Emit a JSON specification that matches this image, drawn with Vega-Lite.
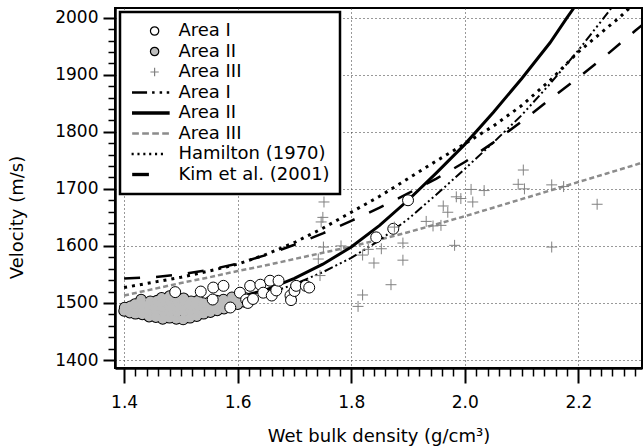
{
  "$schema": "https://vega.github.io/schema/vega-lite/v6.json",
  "width": 527,
  "height": 360,
  "autosize": "none",
  "padding": {"left": 115, "top": 8, "right": 1, "bottom": 79},
  "background": "white",
  "config": {
    "view": {"stroke": "black", "strokeWidth": 2},
    "font": "DejaVu Sans",
    "legend": {"strokeWidth": 2.5}
  },
  "datasets": {
    "lines": [
      {"c": "l3", "x": 1.40, "y": 1513}, {"c": "l3", "x": 1.45, "y": 1524}, {"c": "l3", "x": 1.50, "y": 1535}, {"c": "l3", "x": 1.55, "y": 1545},
      {"c": "l3", "x": 1.60, "y": 1556}, {"c": "l3", "x": 1.65, "y": 1566}, {"c": "l3", "x": 1.70, "y": 1577}, {"c": "l3", "x": 1.75, "y": 1588},
      {"c": "l3", "x": 1.80, "y": 1599}, {"c": "l3", "x": 1.85, "y": 1611}, {"c": "l3", "x": 1.90, "y": 1624}, {"c": "l3", "x": 1.95, "y": 1638},
      {"c": "l3", "x": 2.00, "y": 1652}, {"c": "l3", "x": 2.05, "y": 1667}, {"c": "l3", "x": 2.10, "y": 1682}, {"c": "l3", "x": 2.15, "y": 1697},
      {"c": "l3", "x": 2.20, "y": 1712}, {"c": "l3", "x": 2.25, "y": 1727}, {"c": "l3", "x": 2.30, "y": 1742}, {"c": "l3", "x": 2.312, "y": 1746},
      {"c": "k", "x": 1.40, "y": 1543}, {"c": "k", "x": 1.45, "y": 1545}, {"c": "k", "x": 1.50, "y": 1550}, {"c": "k", "x": 1.55, "y": 1558},
      {"c": "k", "x": 1.60, "y": 1569}, {"c": "k", "x": 1.65, "y": 1584}, {"c": "k", "x": 1.70, "y": 1602}, {"c": "k", "x": 1.75, "y": 1622},
      {"c": "k", "x": 1.80, "y": 1644}, {"c": "k", "x": 1.85, "y": 1667}, {"c": "k", "x": 1.90, "y": 1692}, {"c": "k", "x": 1.95, "y": 1718},
      {"c": "k", "x": 2.00, "y": 1747}, {"c": "k", "x": 2.05, "y": 1781}, {"c": "k", "x": 2.10, "y": 1818}, {"c": "k", "x": 2.15, "y": 1857},
      {"c": "k", "x": 2.20, "y": 1895}, {"c": "k", "x": 2.25, "y": 1935}, {"c": "k", "x": 2.30, "y": 1977}, {"c": "k", "x": 2.312, "y": 1987},
      {"c": "h", "x": 1.40, "y": 1527}, {"c": "h", "x": 1.45, "y": 1536}, {"c": "h", "x": 1.50, "y": 1545}, {"c": "h", "x": 1.55, "y": 1556},
      {"c": "h", "x": 1.60, "y": 1568}, {"c": "h", "x": 1.65, "y": 1585}, {"c": "h", "x": 1.70, "y": 1606}, {"c": "h", "x": 1.75, "y": 1631},
      {"c": "h", "x": 1.80, "y": 1659}, {"c": "h", "x": 1.85, "y": 1687}, {"c": "h", "x": 1.90, "y": 1718}, {"c": "h", "x": 1.95, "y": 1749},
      {"c": "h", "x": 2.00, "y": 1779}, {"c": "h", "x": 2.05, "y": 1810}, {"c": "h", "x": 2.10, "y": 1846}, {"c": "h", "x": 2.15, "y": 1890},
      {"c": "h", "x": 2.20, "y": 1940}, {"c": "h", "x": 2.25, "y": 1982}, {"c": "h", "x": 2.272, "y": 2000}, {"c": "h", "x": 2.29, "y": 2017},
      {"c": "l1", "x": 1.62, "y": 1505}, {"c": "l1", "x": 1.65, "y": 1515}, {"c": "l1", "x": 1.70, "y": 1533}, {"c": "l1", "x": 1.75, "y": 1554},
      {"c": "l1", "x": 1.80, "y": 1579}, {"c": "l1", "x": 1.85, "y": 1610}, {"c": "l1", "x": 1.90, "y": 1647}, {"c": "l1", "x": 1.95, "y": 1690},
      {"c": "l1", "x": 2.00, "y": 1735}, {"c": "l1", "x": 2.05, "y": 1781}, {"c": "l1", "x": 2.10, "y": 1829}, {"c": "l1", "x": 2.15, "y": 1884},
      {"c": "l1", "x": 2.20, "y": 1943}, {"c": "l1", "x": 2.245, "y": 2000}, {"c": "l1", "x": 2.258, "y": 2017},
      {"c": "l2", "x": 1.55, "y": 1500}, {"c": "l2", "x": 1.60, "y": 1510}, {"c": "l2", "x": 1.65, "y": 1523}, {"c": "l2", "x": 1.70, "y": 1543},
      {"c": "l2", "x": 1.75, "y": 1568}, {"c": "l2", "x": 1.80, "y": 1598}, {"c": "l2", "x": 1.85, "y": 1636}, {"c": "l2", "x": 1.90, "y": 1680},
      {"c": "l2", "x": 1.95, "y": 1728}, {"c": "l2", "x": 2.00, "y": 1778}, {"c": "l2", "x": 2.05, "y": 1834}, {"c": "l2", "x": 2.10, "y": 1893},
      {"c": "l2", "x": 2.15, "y": 1956}, {"c": "l2", "x": 2.18, "y": 2000}, {"c": "l2", "x": 2.192, "y": 2017}
    ],
    "blob": [
      {"x": 1.400, "y": 1486}, {"x": 1.401, "y": 1492},
      {"x": 1.410, "y": 1483}, {"x": 1.411, "y": 1494},
      {"x": 1.420, "y": 1481}, {"x": 1.421, "y": 1490}, {"x": 1.419, "y": 1498},
      {"x": 1.432, "y": 1480}, {"x": 1.433, "y": 1489}, {"x": 1.431, "y": 1498}, {"x": 1.430, "y": 1506},
      {"x": 1.444, "y": 1476}, {"x": 1.445, "y": 1487}, {"x": 1.443, "y": 1496}, {"x": 1.446, "y": 1503},
      {"x": 1.456, "y": 1475}, {"x": 1.457, "y": 1486}, {"x": 1.455, "y": 1495}, {"x": 1.458, "y": 1504},
      {"x": 1.468, "y": 1472}, {"x": 1.469, "y": 1484}, {"x": 1.467, "y": 1493}, {"x": 1.470, "y": 1502}, {"x": 1.466, "y": 1509},
      {"x": 1.480, "y": 1474}, {"x": 1.481, "y": 1485}, {"x": 1.479, "y": 1494}, {"x": 1.482, "y": 1503}, {"x": 1.480, "y": 1512},
      {"x": 1.492, "y": 1472}, {"x": 1.493, "y": 1484}, {"x": 1.491, "y": 1493}, {"x": 1.494, "y": 1502}, {"x": 1.492, "y": 1509},
      {"x": 1.504, "y": 1471}, {"x": 1.505, "y": 1485}, {"x": 1.503, "y": 1494}, {"x": 1.506, "y": 1503}, {"x": 1.505, "y": 1508},
      {"x": 1.516, "y": 1474}, {"x": 1.517, "y": 1487}, {"x": 1.515, "y": 1496}, {"x": 1.518, "y": 1503},
      {"x": 1.528, "y": 1477}, {"x": 1.529, "y": 1488}, {"x": 1.527, "y": 1497}, {"x": 1.530, "y": 1504},
      {"x": 1.540, "y": 1481}, {"x": 1.541, "y": 1491}, {"x": 1.539, "y": 1500},
      {"x": 1.552, "y": 1484}, {"x": 1.553, "y": 1494}, {"x": 1.551, "y": 1502},
      {"x": 1.564, "y": 1487}, {"x": 1.565, "y": 1496}, {"x": 1.563, "y": 1504},
      {"x": 1.576, "y": 1490}, {"x": 1.577, "y": 1499}, {"x": 1.575, "y": 1506},
      {"x": 1.588, "y": 1494}, {"x": 1.589, "y": 1503}, {"x": 1.590, "y": 1510},
      {"x": 1.600, "y": 1498}, {"x": 1.601, "y": 1506}, {"x": 1.602, "y": 1513},
      {"x": 1.612, "y": 1502}, {"x": 1.613, "y": 1509}
    ],
    "pts": [
      {"s": "p1", "x": 1.490, "y": 1519}, {"s": "p1", "x": 1.535, "y": 1520},
      {"s": "p1", "x": 1.557, "y": 1527}, {"s": "p1", "x": 1.556, "y": 1506}, {"s": "p1", "x": 1.575, "y": 1530},
      {"s": "p1", "x": 1.587, "y": 1492}, {"s": "p1", "x": 1.604, "y": 1518}, {"s": "p1", "x": 1.615, "y": 1506},
      {"s": "p1", "x": 1.618, "y": 1500}, {"s": "p1", "x": 1.622, "y": 1530}, {"s": "p1", "x": 1.627, "y": 1507},
      {"s": "p1", "x": 1.640, "y": 1532}, {"s": "p1", "x": 1.645, "y": 1518}, {"s": "p1", "x": 1.660, "y": 1513},
      {"s": "p1", "x": 1.657, "y": 1539}, {"s": "p1", "x": 1.668, "y": 1522}, {"s": "p1", "x": 1.672, "y": 1539},
      {"s": "p1", "x": 1.693, "y": 1513}, {"s": "p1", "x": 1.694, "y": 1505}, {"s": "p1", "x": 1.700, "y": 1521},
      {"s": "p1", "x": 1.703, "y": 1530}, {"s": "p1", "x": 1.720, "y": 1530}, {"s": "p1", "x": 1.726, "y": 1527},
      {"s": "p1", "x": 1.844, "y": 1615}, {"s": "p1", "x": 1.874, "y": 1630}, {"s": "p1", "x": 1.900, "y": 1680},
      {"s": "p3", "x": 1.745, "y": 1548}, {"s": "p3", "x": 1.742, "y": 1577}, {"s": "p3", "x": 1.751, "y": 1598},
      {"s": "p3", "x": 1.747, "y": 1642}, {"s": "p3", "x": 1.752, "y": 1677}, {"s": "p3", "x": 1.750, "y": 1650},
      {"s": "p3", "x": 1.782, "y": 1600}, {"s": "p3", "x": 1.812, "y": 1494}, {"s": "p3", "x": 1.820, "y": 1514},
      {"s": "p3", "x": 1.820, "y": 1584}, {"s": "p3", "x": 1.830, "y": 1594}, {"s": "p3", "x": 1.840, "y": 1570},
      {"s": "p3", "x": 1.853, "y": 1595}, {"s": "p3", "x": 1.870, "y": 1532}, {"s": "p3", "x": 1.876, "y": 1633},
      {"s": "p3", "x": 1.891, "y": 1605}, {"s": "p3", "x": 1.891, "y": 1575}, {"s": "p3", "x": 1.932, "y": 1643},
      {"s": "p3", "x": 1.944, "y": 1635}, {"s": "p3", "x": 1.958, "y": 1636}, {"s": "p3", "x": 1.962, "y": 1670},
      {"s": "p3", "x": 1.970, "y": 1659}, {"s": "p3", "x": 1.982, "y": 1601}, {"s": "p3", "x": 1.985, "y": 1686},
      {"s": "p3", "x": 1.993, "y": 1683}, {"s": "p3", "x": 2.011, "y": 1699}, {"s": "p3", "x": 2.014, "y": 1677},
      {"s": "p3", "x": 2.034, "y": 1697}, {"s": "p3", "x": 2.094, "y": 1708}, {"s": "p3", "x": 2.103, "y": 1733},
      {"s": "p3", "x": 2.105, "y": 1700}, {"s": "p3", "x": 2.153, "y": 1707}, {"s": "p3", "x": 2.174, "y": 1704},
      {"s": "p3", "x": 2.153, "y": 1598}, {"s": "p3", "x": 2.233, "y": 1673}
    ]
  },
  "encoding": {
    "x": {
      "field": "x", "type": "quantitative",
      "scale": {"domain": [1.384, 2.312], "nice": false, "zero": false},
      "axis": {
        "title": "Wet bulk density (g/cm³)",
        "values": [1.40, 1.42, 1.44, 1.46, 1.48, 1.50, 1.52, 1.54, 1.56, 1.58, 1.60, 1.62, 1.64, 1.66, 1.68, 1.70, 1.72, 1.74, 1.76, 1.78, 1.80, 1.82, 1.84, 1.86, 1.88, 1.90, 1.92, 1.94, 1.96, 1.98, 2.00, 2.02, 2.04, 2.06, 2.08, 2.10, 2.12, 2.14, 2.16, 2.18, 2.20, 2.22, 2.24, 2.26, 2.28, 2.30],
        "labelExpr": "abs(datum.value*5-round(datum.value*5))<0.001 ? format(datum.value,'.1f') : ''",
        "tickSize": {"condition": {"test": "abs(datum.value*5-round(datum.value*5))<0.001", "value": 15}, "value": 8},
        "tickWidth": {"condition": {"test": "abs(datum.value*5-round(datum.value*5))<0.001", "value": 2}, "value": 1.5},
        "gridOpacity": {"condition": {"test": "abs(datum.value*5-round(datum.value*5))<0.001", "value": 1}, "value": 0},
        "grid": true, "gridDash": [1, 3], "gridColor": "#333333", "gridWidth": 1,
        "domainColor": "black", "domainWidth": 2.5, "tickColor": "black",
        "labelFont": "DejaVu Sans", "labelFontSize": 17, "labelColor": "black", "labelPadding": 11,
        "labelOverlap": false, "labelFlush": false,
        "titleFont": "DejaVu Sans", "titleFontSize": 18, "titleFontWeight": "normal", "titleColor": "black", "titlePadding": 17
      }
    },
    "y": {
      "field": "y", "type": "quantitative",
      "scale": {"domain": [1386, 2017], "nice": false, "zero": false},
      "axis": {
        "title": "Velocity (m/s)",
        "values": [1400, 1420, 1440, 1460, 1480, 1500, 1520, 1540, 1560, 1580, 1600, 1620, 1640, 1660, 1680, 1700, 1720, 1740, 1760, 1780, 1800, 1820, 1840, 1860, 1880, 1900, 1920, 1940, 1960, 1980, 2000],
        "labelExpr": "datum.value % 100 == 0 ? format(datum.value,'d') : ''",
        "tickSize": {"condition": {"test": "datum.value % 100 == 0", "value": 12}, "value": 7},
        "tickWidth": {"condition": {"test": "datum.value % 100 == 0", "value": 2}, "value": 1.5},
        "gridOpacity": {"condition": {"test": "datum.value % 100 == 0", "value": 1}, "value": 0},
        "grid": true, "gridDash": [1, 3], "gridColor": "#333333", "gridWidth": 1,
        "domainColor": "black", "domainWidth": 2.5, "tickColor": "black",
        "labelFont": "DejaVu Sans", "labelFontSize": 17, "labelColor": "black", "labelPadding": 5,
        "labelOverlap": false, "labelFlush": false,
        "titleFont": "DejaVu Sans", "titleFontSize": 18, "titleFontWeight": "normal", "titleColor": "black", "titlePadding": 28, "titleY": 209
      }
    }
  },
  "layer": [
    {"data": {"name": "lines"}, "transform": [{"filter": "datum.c == 'l3'"}],
     "mark": {"type": "line", "color": "#8c8c8c", "strokeWidth": 2.5, "strokeDash": [5, 3], "clip": true}},
    {"data": {"name": "lines"}, "transform": [{"filter": "datum.c == 'k'"}],
     "mark": {"type": "line", "color": "black", "strokeWidth": 2.5, "strokeDash": [16, 16], "clip": true}},
    {"data": {"name": "lines"}, "transform": [{"filter": "datum.c == 'h'"}],
     "mark": {"type": "line", "color": "black", "strokeWidth": 3, "strokeDash": [3, 5], "clip": true}},
    {"data": {"name": "lines"}, "transform": [{"filter": "datum.c == 'l1'"}],
     "mark": {"type": "line", "color": "black", "strokeWidth": 2, "strokeDash": [9, 3, 2, 3, 2, 3, 2, 3], "clip": true}},
    {"data": {"name": "lines"}, "transform": [{"filter": "datum.c == 'l2'"}],
     "mark": {"type": "line", "color": "black", "strokeWidth": 3, "clip": true}},
    {"data": {"name": "blob"}, "mark": {"type": "circle", "size": 135, "color": "black", "opacity": 1}},
    {"data": {"name": "blob"}, "mark": {"type": "circle", "size": 92, "color": "#bdbdbd", "opacity": 1}},
    {"data": {"name": "pts"},
     "mark": {"type": "point", "strokeWidth": 1, "opacity": 1},
     "encoding": {
       "size": {"value": 120},
       "shape": {"field": "s", "type": "nominal",
         "scale": {"domain": ["p1", "p2", "p3", "l1", "l2", "l3", "h", "k"],
                   "range": ["circle", "circle", "M-1,0H1M0,-1V1",
                             "M-5.4,-0.3H-1.8V0.3H-5.4ZM-0.6,-0.3H0V0.3H-0.6ZM1.2,-0.3H1.8V0.3H1.2ZM2.9,-0.3H3.5V0.3H2.9Z",
                             "M-5.4,-0.4H3.6V0.4H-5.4Z",
                             "M-5.36,-0.3H-3.76V0.3H-5.36ZM-2.97,-0.3H-1.36V0.3H-2.97ZM-0.57,-0.3H1.03V0.3H-0.57ZM1.82,-0.3H3.42V0.3H1.82Z",
                             "M-5.5,-0.3H-5V0.3H-5.5ZM-4.1,-0.3H-3.6V0.3H-4.1ZM-2.7,-0.3H-2.2V0.3H-2.7ZM-1.3,-0.3H-0.8V0.3H-1.3ZM0.1,-0.3H0.6V0.3H0.1ZM1.5,-0.3H2V0.3H1.5Z",
                             "M-5.36,-0.4H-1.36V0.4H-5.36Z"]},
         "legend": {"orient": "none", "legendX": 5, "legendY": 4, "title": null,
           "labelExpr": "['Area I','Area II','Area III','Area I','Area II','Area III','Hamilton (1970)','Kim et al. (2001)'][indexof(['p1','p2','p3','l1','l2','l3','h','k'], datum.label)]",
           "symbolSize": 70, "symbolOffset": 15.6, "labelOffset": 14.8, "labelFont": "DejaVu Sans", "labelFontSize": 18, "labelColor": "black",
           "padding": 10, "rowPadding": 2.5, "strokeColor": "black", "fillColor": "white", "symbolStrokeWidth": 1.2, "symbolOpacity": 1, "labelLimit": 300}},
       "fill": {"field": "s", "type": "nominal",
         "scale": {"domain": ["p1", "p2", "p3", "l1", "l2", "l3", "h", "k"],
                   "range": ["white", "#bdbdbd", "transparent", "black", "black", "#8c8c8c", "black", "black"]},
         "legend": {"orient": "none", "legendX": 5, "legendY": 4, "title": null,
           "labelExpr": "['Area I','Area II','Area III','Area I','Area II','Area III','Hamilton (1970)','Kim et al. (2001)'][indexof(['p1','p2','p3','l1','l2','l3','h','k'], datum.label)]",
           "symbolSize": 70, "symbolOffset": 15.6, "labelOffset": 14.8, "labelFont": "DejaVu Sans", "labelFontSize": 18, "labelColor": "black",
           "padding": 10, "rowPadding": 2.5, "strokeColor": "black", "fillColor": "white", "symbolStrokeWidth": 1.2, "symbolOpacity": 1, "labelLimit": 300}},
       "stroke": {"field": "s", "type": "nominal",
         "scale": {"domain": ["p1", "p2", "p3", "l1", "l2", "l3", "h", "k"],
                   "range": ["black", "black", "#808080", "transparent", "transparent", "transparent", "transparent", "transparent"]},
         "legend": {"orient": "none", "legendX": 5, "legendY": 4, "title": null,
           "labelExpr": "['Area I','Area II','Area III','Area I','Area II','Area III','Hamilton (1970)','Kim et al. (2001)'][indexof(['p1','p2','p3','l1','l2','l3','h','k'], datum.label)]",
           "symbolSize": 70, "symbolOffset": 15.6, "labelOffset": 14.8, "labelFont": "DejaVu Sans", "labelFontSize": 18, "labelColor": "black",
           "padding": 10, "rowPadding": 2.5, "strokeColor": "black", "fillColor": "white", "symbolStrokeWidth": 1.2, "symbolOpacity": 1, "labelLimit": 300}}
     }}
  ]
}
